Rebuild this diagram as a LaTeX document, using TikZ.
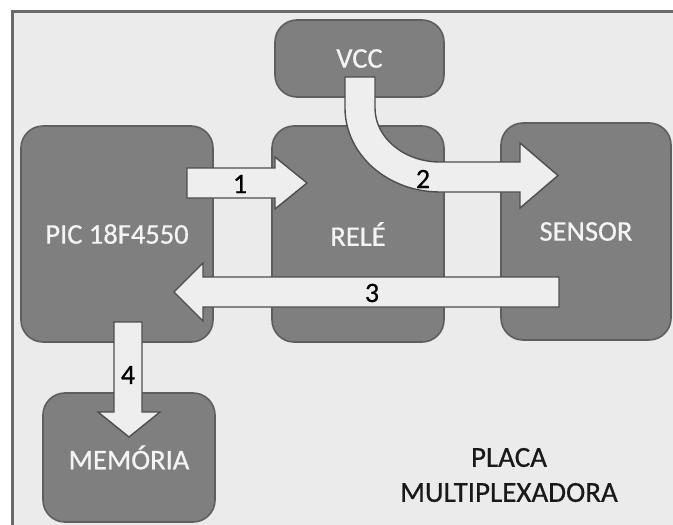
\documentclass[tikz,border=0pt]{standalone}
\usepackage{fontspec}
\setmainfont{Carlito}
\newfontfamily\diagfont{Carlito}[FakeBold=0.6]
\definecolor{plateGray}{HTML}{EBEBEB}
\definecolor{plateEdge}{HTML}{6A6A6A}
\definecolor{blockGray}{HTML}{7F7F7F}
\definecolor{blockEdge}{HTML}{5E5E5E}
\definecolor{blockText}{HTML}{F4F4F4}
\definecolor{flowFill}{HTML}{EEEEEE}
\definecolor{flowEdge}{HTML}{4E4E4E}
\usetikzlibrary{positioning, calc}

\begin{document}
\begin{tikzpicture}[
        x=1pt, y=-1pt,
        block/.style={
          rounded corners=22pt,
          draw=blockEdge,
          fill=blockGray,
          text=blockText,
          line width=1.6pt,
          inner sep=0pt,
          align=center,
          font=\diagfont\fontsize{28.5}{30}\selectfont,
        },
        flow/.style={fill=flowFill, draw=flowEdge, line width=1.4pt, line join=miter},
        flowlabel/.style={text=black, inner sep=0pt, font=\diagfont\fontsize{28}{30}\selectfont},
        platelabel/.style={text=black!90, inner sep=0pt, align=center, font=\diagfont\fontsize{29}{35}\selectfont},
      ]
        \useasboundingbox (0,0) rectangle (673,525);
        \clip (0,0) rectangle (673,525);
        % placa
        \draw[fill=plateGray, draw=plateEdge, line width=3pt] (12,11) rectangle (690,545);

        % blocos
        \node[block, minimum width=169pt, minimum height=77pt] (vcc) at (359.5,58.5) {VCC};
        \node[block, minimum width=192pt, minimum height=216pt] (pic) at (117,234) {PIC 18F4550};
        \node[block, minimum width=172pt, minimum height=216pt] (rele) at (358,234) {RELÉ};
        \node[block, minimum width=170pt, minimum height=217pt] (sensor) at (586,231.5) {SENSOR};
        \node[block, minimum width=172pt, minimum height=129pt] (mem) at (129,457.5) {MEMÓRIA};

        % setas
        \draw[flow] (187,168) -- (275,168) -- (275,157) -- (307,183)
          -- (275,209) -- (275,198) -- (187,198) -- cycle;
        \draw[flow] (345,77) -- (345,108) arc[start angle=180, end angle=90, x radius=95, y radius=84]
          -- (520,192) -- (520,208) -- (558,175.5) -- (520,143) -- (520,162) -- (440,162)
          arc[start angle=90, end angle=180, x radius=65, y radius=54] -- (375,77) -- cycle;
        \draw[flow] (559,277) -- (203,277) -- (203,263) -- (174,292)
          -- (203,321) -- (203,307) -- (559,307) -- cycle;
        \draw[flow] (114,322) -- (114,412) -- (98,412) -- (129,437)
          -- (160,412) -- (142,412) -- (142,322) -- cycle;

        \node[flowlabel] (n1) at (240,184) {1};
        \node[flowlabel] (n2) at (423,179) {2};
        \node[flowlabel] (n3) at (372,293) {3};
        \node[flowlabel] (n4) at (128,375) {4};

        \node[platelabel] (placa) at (509,475) {PLACA\\MULTIPLEXADORA};
      \end{tikzpicture}
\end{document}
